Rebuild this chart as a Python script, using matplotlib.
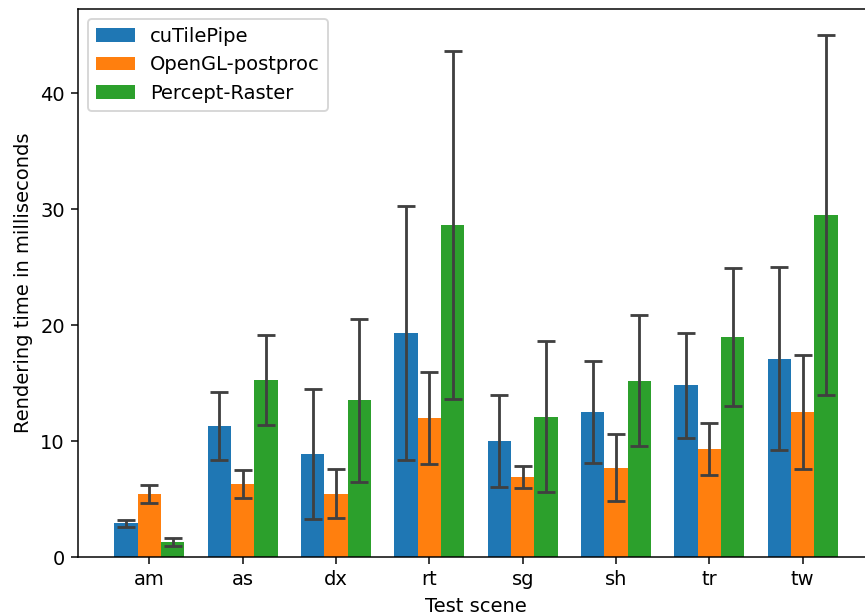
import numpy as np
import matplotlib.pyplot as plt

# Mean rendering times (ms) and standard deviations per test scene
scenes = ["am", "as", "dx", "rt", "sg", "sh", "tr", "tw"]
methods = ["cuTilePipe", "OpenGL-postproc", "Percept-Raster"]

cutile_mean = [2.9, 11.3, 8.9, 19.3, 10.0, 12.5, 14.8, 17.1]
cutile_std = [0.3, 2.9, 5.6, 10.95, 3.95, 4.4, 4.55, 7.9]

opengl_mean = [5.45, 6.3, 5.45, 12.0, 6.9, 7.7, 9.3, 12.5]
opengl_std = [0.78, 1.2, 2.1, 3.95, 0.96, 2.9, 2.25, 4.9]

percept_mean = [1.3, 15.25, 13.5, 28.6, 12.1, 15.2, 18.95, 29.5]
percept_std = [0.35, 3.85, 7.0, 15.0, 6.5, 5.65, 5.95, 15.5]

means = [cutile_mean, opengl_mean, percept_mean]
stds = [cutile_std, opengl_std, percept_std]

plt.rcParams["font.size"] = 10.4

fig = plt.figure(figsize=(865 / 135, 615 / 135), dpi=135)
ax = fig.add_axes([0.0902, 0.0943, 0.9202, 0.8911])

x = np.arange(len(scenes))
width = 0.25
for i, (name, m, s) in enumerate(zip(methods, means, stds)):
    ax.bar(x + (i - 1) * width, m, width, yerr=s, label=name,
           error_kw=dict(ecolor="#404040", capsize=5, elinewidth=1.5, capthick=1.5))

ax.set_xticks(x)
ax.set_xticklabels(scenes)
ax.set_xlabel("Test scene")
ax.set_ylabel("Rendering time in milliseconds")
ax.legend(loc="upper left")

fig.savefig("out.png", dpi=135)
